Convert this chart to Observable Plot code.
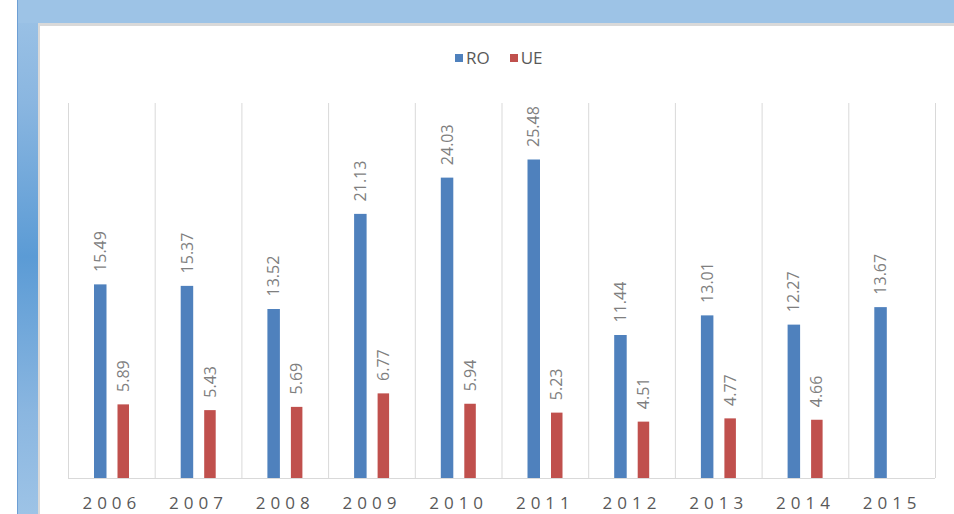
<!DOCTYPE html>
<html>
<head>
<meta charset="utf-8">
<script src="https://cdn.jsdelivr.net/npm/d3@7"></script>
<script src="https://cdn.jsdelivr.net/npm/@observablehq/plot@0.6"></script>
<style>
  html, body { margin: 0; padding: 0; background: #fff; }
  #page { position: relative; width: 954px; height: 514px; overflow: hidden; background: #fff; font-family: "Open Sans", sans-serif; }
  #frame { position: absolute; left: 17px; top: 0; right: 0; bottom: 0;
    border-left: 1px solid #6e9fd4;
    background: linear-gradient(to bottom, #9dc3e6 0%, #8ab6e0 20%, #5b9bd5 50%, #8ab6e0 80%, #9dc3e6 100%); }
  #topband { position: absolute; left: 18px; top: 0; right: 0; height: 23px; background: #9dc3e6; }
  #panel { position: absolute; left: 38px; top: 23px; right: 0; bottom: 0; background: #fff;
    border-top: 3px solid #d9d9d9; border-left: 2px solid #d9d9d9; }
  #legend { position: absolute; left: 455px; top: 46px; display: flex; align-items: center;
    font-size: 17px; color: #595959; }
  #legend .sw { width: 8px; height: 8px; display: inline-block; margin-right: 3px; }
  #legend .item { display: flex; align-items: center; margin-right: 20px; }
  #chart { position: absolute; left: 0; top: 80px; }
</style>
</head>
<body>
<div id="page">
  <div id="frame"></div>
  <div id="topband"></div>
  <div id="panel"></div>
  <div id="legend"></div>
  <div id="chart"></div>
</div>
<script>
const years = [2006, 2007, 2008, 2009, 2010, 2011, 2012, 2013, 2014, 2015];
const seriesNames = ["RO", "UE"];
const seriesColors = ["#4f81bd", "#c0504d"];
const roValues = [15.49, 15.37, 13.52, 21.13, 24.03, 25.48, 11.44, 13.01, 12.27, 13.67];
const ueValues = [5.89, 5.43, 5.69, 6.77, 5.94, 5.23, 4.51, 4.77, 4.66, null];

const ro = years.map((y, i) => ({year: y, series: "RO", value: roValues[i]}));
const ue = years.map((y, i) => ({year: y, series: "UE", value: ueValues[i]})).filter(d => d.value != null);

// legend
const legend = document.getElementById("legend");
seriesNames.forEach((s, i) => {
  const item = document.createElement("div");
  item.className = "item";
  item.innerHTML = `<span class="sw" style="background:${seriesColors[i]}"></span><span>${s}</span>`;
  legend.appendChild(item);
});

const W = 954, H = 434, ML = 68, MR = 19;
const step = (W - ML - MR) / years.length;

const plot = Plot.plot({
  width: W,
  height: H,
  marginLeft: ML,
  marginRight: MR,
  marginTop: 23,
  marginBottom: 36,
  style: {fontFamily: "'Open Sans', sans-serif", background: "transparent", color: "#595959"},
  x: {domain: years, padding: 0, round: false, label: null},
  y: {domain: [0, 30], axis: null},
  marks: [
    Plot.ruleX(years, {x: d => d, y1: 0, y2: 30, dx: -step / 2, stroke: "#d9d9d9", strokeWidth: 1}),
    Plot.ruleX(years.slice(-1), {x: d => d, y1: 0, y2: 30, dx: step / 2, stroke: "#d9d9d9", strokeWidth: 1}),
    Plot.ruleY([0], {stroke: "#d9d9d9", strokeWidth: 1}),
    Plot.barY(ro, {x: "year", y: "value", fill: seriesColors[0], insetLeft: 26, insetRight: step - 38.5}),
    Plot.barY(ue, {x: "year", y: "value", fill: seriesColors[1], insetLeft: 49.5, insetRight: step - 61}),
    Plot.text(ro, {x: "year", y: "value", text: d => d.value.toFixed(2), rotate: -90, textAnchor: "start",
      dx: 32.25 - step / 2, dy: -13, fill: "#7f7f7f", fontSize: 16}),
    Plot.text(ue, {x: "year", y: "value", text: d => d.value.toFixed(2), rotate: -90, textAnchor: "start",
      dx: 55.25 - step / 2, dy: -13, fill: "#7f7f7f", fontSize: 16}),
    Plot.axisX({tickSize: 0, tickPadding: 18, fontSize: 17, fill: "#595959", label: null, tickFormat: d => String(d)})
  ]
});
d3.select(plot).selectAll('g[aria-label^="x-axis"] text').style("letter-spacing", "5px");
document.getElementById("chart").appendChild(plot);
</script>
</body>
</html>
